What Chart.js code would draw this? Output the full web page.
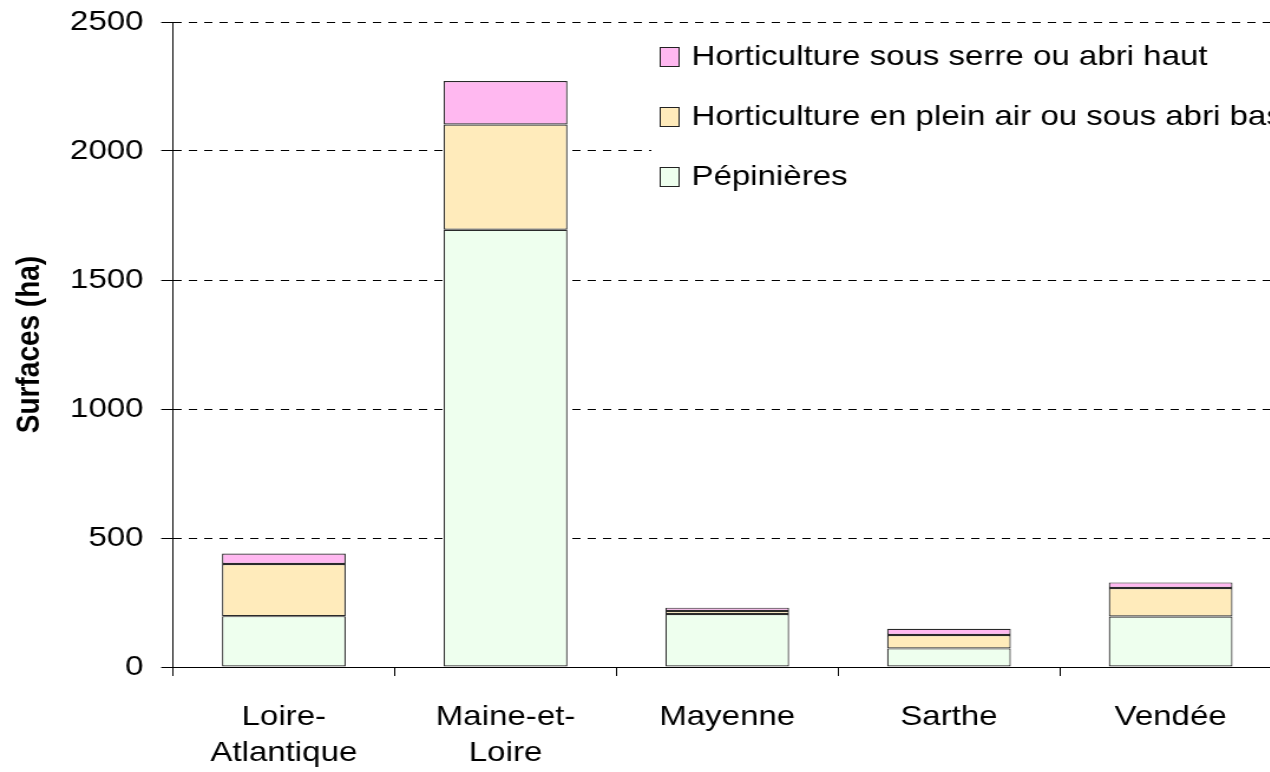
<!DOCTYPE html>
<html><head><meta charset="utf-8">
<script src="https://cdn.jsdelivr.net/npm/chart.js@4"></script>
<style>
html,body{margin:0;padding:0;background:#fff;overflow:hidden;width:1270px;height:772px;}
#wrap{position:absolute;left:0;top:0;width:1100px;height:772px;transform:scaleX(1.18);transform-origin:0 0;}
canvas{display:block}
</style></head><body>
<div id="wrap"><canvas id="c" width="1100" height="772"></canvas></div>
<script>
const categories = [['Loire-','Atlantique'],['Maine-et-','Loire'],'Mayenne','Sarthe','Vendée'];
const seriesNames = ['Pépinières','Horticulture en plein air ou sous abri bas','Horticulture sous serre ou abri haut'];
const pepinieres = [197,1695,205,72,196];
const pleinAir = [202,408,12,52,110];
const sousSerre = [41,168,13,24,22];
const yTicks = [0,500,1000,1500,2000,2500];
const seriesColors = ['#EEFFEE','#FFEBBB','#FFB8F0'];

const FAMILY = '"Liberation Sans", Arial, sans-serif';

const boxLegend = {
  id:'boxLegend',
  afterDatasetsDraw(chart){
    const ctx = chart.ctx;
    ctx.save();
    ctx.fillStyle = '#fff';
    ctx.fillRect(552, 30, 560, 170);
    const ds = chart.data.datasets.slice().reverse();
    ctx.font = '28px ' + FAMILY;
    ctx.textBaseline = 'middle';
    ctx.textAlign = 'left';
    ds.forEach((d,i)=>{
      const y = 57 + i*60;
      ctx.fillStyle = d.backgroundColor;
      ctx.fillRect(559.5, y-9.5, 16, 19);
      ctx.strokeStyle = '#222'; ctx.lineWidth = 1;
      ctx.strokeRect(559.5, y-9.5, 16, 19);
      ctx.fillStyle = '#000';
      ctx.fillText(d.label, 586, y);
    });
    ctx.restore();
  }
};

const values = [pepinieres, pleinAir, sousSerre];
new Chart(document.getElementById('c'), {
  type:'bar',
  data:{
    labels: categories,
    datasets: values.map((v,i)=>({
      label: seriesNames[i],
      data: v,
      backgroundColor: seriesColors[i],
      borderColor: '#2a2a2a',
      borderWidth: 1.2,
      borderSkipped: false,
      categoryPercentage: 1,
      barPercentage: 0.558
    }))
  },
  options:{
    responsive:false,
    animation:false,
    devicePixelRatio:1,
    layout:{padding:{top:22,right:14,left:0,bottom:0}},
    plugins:{legend:{display:false},tooltip:{enabled:false}},
    scales:{
      x:{
        stacked:true,
        ticks:{color:'#000',font:{size:28,family:FAMILY,lineHeight:1.3},padding:23,maxRotation:0,autoSkip:false},
        grid:{drawOnChartArea:false,drawTicks:true,tickLength:9,tickColor:'#000',offset:true},
        border:{display:true,color:'#000',width:1},
        afterFit(s){ s.height = 105; s.paddingLeft = 0; s.paddingRight = 0; }
      },
      y:{
        stacked:true,
        min:yTicks[0], max:yTicks[yTicks.length-1],
        afterBuildTicks(s){ s.ticks = yTicks.map(v=>({value:v})); },
        ticks:{color:'#000',font:{size:28,family:FAMILY},padding:15,callback:(v)=>String(v)},
        grid:{color:'#000',lineWidth:1,tickLength:10,tickColor:'#000',tickBorderDash:[],drawTicks:true},
        border:{display:true,color:'#000',width:1,dash:[7,6]},
        title:{display:true,text:'Surfaces (ha)',color:'#000',font:{size:28,weight:'bold',family:FAMILY},padding:{top:8,bottom:0}},
        afterFit(s){ s.width = 146.6; s.paddingTop = 0; s.paddingBottom = 0; }
      }
    }
  },
  plugins:[boxLegend]
});
</script>
</body></html>
